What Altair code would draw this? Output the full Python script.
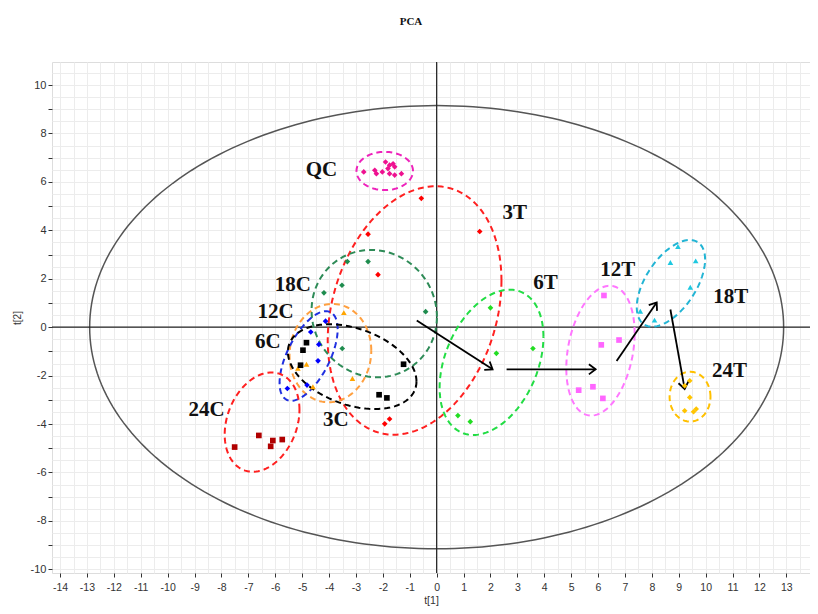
import math
import numpy as np
import pandas as pd
import altair as alt

# ---------------- data ----------------
groups = ["QC", "3T", "6T", "12T", "18T", "24T", "18C", "12C", "6C", "3C", "24C"]

QC_x = [-2.71, -2.30, -2.24, -2.02, -1.90, -1.75, -1.62, -1.56, -1.75, -1.56, -1.31, -1.81]
QC_y = [6.41, 6.48, 6.34, 6.41, 6.82, 6.69, 6.75, 6.62, 6.34, 6.28, 6.34, 6.55]
T3_x = [-0.57, -2.55, 1.60, -2.18, -1.93, -1.75]
T3_y = [5.32, 3.84, 3.95, 2.17, -3.99, -3.79]
T6_x = [2.00, 2.22, 3.58, 0.79, 1.25]
T6_y = [0.80, -1.08, -0.88, -3.65, -3.90]
T12_x = [6.22, 6.12, 6.78, 5.81, 5.28, 6.18]
T12_y = [1.31, -0.73, -0.53, -2.46, -2.60, -2.94]
T18_x = [8.97, 8.69, 9.63, 9.43, 7.57, 8.10]
T18_y = [3.33, 2.67, 2.74, 1.65, 0.66, 0.29]
T24_x = [9.41, 9.22, 9.41, 9.22, 9.55, 9.65]
T24_y = [-2.21, -2.42, -2.90, -3.45, -3.49, -3.38]
C18_x = [-3.32, -2.55, -3.52, -4.19, -0.41, -3.51]
C18_y = [2.71, 2.71, 1.73, 1.42, 0.64, -0.88]
C12_x = [-3.45, -4.84, -5.16, -3.13, -4.60]
C12_y = [0.60, -1.53, -1.70, -2.12, -2.46]
C6_x = [-4.13, -4.68, -4.38, -4.41, -5.55, -4.82]
C6_y = [0.25, -0.20, -0.71, -1.39, -2.53, -2.39]
C3_x = [-4.84, -4.97, -5.06, -1.23, -2.14, -1.85]
C3_y = [-0.64, -0.95, -1.57, -1.53, -2.79, -2.92]
C24_x = [-7.51, -6.61, -6.09, -6.17, -5.74]
C24_y = [-4.95, -4.47, -4.68, -4.92, -4.64]

# group ellipses: centre x, centre y, half-width, half-height, tilt (correlation)
ell_cx = [-1.93, -0.82, 2.04, 6.09, 8.71, 9.42, -2.32, -3.95, -4.76, -3.14, -6.49]
ell_cy = [6.45, 0.69, -1.45, -0.97, 1.81, -2.87, 0.56, -1.07, -1.19, -1.63, -3.92]
ell_w = [1.05, 3.23, 1.93, 1.27, 1.27, 0.76, 2.33, 1.52, 1.08, 2.39, 1.39]
ell_h = [0.79, 5.13, 3.00, 2.68, 1.79, 1.03, 2.63, 2.03, 1.85, 1.75, 2.05]
ell_r = [0.0, 0.24, 0.35, 0.27, 0.55, 0.0, -0.05, 0.05, 0.60, -0.35, 0.25]

# Hotelling T2 ellipse
hot_w, hot_h = 12.9, 9.15

# arrows (start -> end)
arr_x1 = [-0.74, 2.60, 6.69, 8.69]
arr_y1 = [0.28, -1.74, -1.40, 0.73]
arr_x2 = [2.08, 5.91, 8.18, 9.22]
arr_y2 = [-1.74, -1.74, 1.02, -2.55]

# labels
lab_text = ["QC", "3T", "6T", "12T", "18T", "24T", "18C", "12C", "6C", "24C", "3C"]
lab_x = [-4.28, 2.90, 4.05, 6.73, 10.93, 10.89, -5.35, -5.99, -6.28, -8.55, -3.75]
lab_y = [6.48, 4.72, 1.84, 2.37, 1.26, -1.82, 1.76, 0.61, -0.62, -3.41, -3.82]

point_colors = ["#EE1190", "#FF0000", "#22DD22", "#FF66FF", "#1EC8E0", "#FFC400",
                "#1E8C4E", "#FFA500", "#0000FF", "#000000", "#B00000"]
ellipse_colors = ["#EE22BB", "#FF2020", "#22DD44", "#FF77FF", "#22B4D4", "#FFC000",
                  "#2E8B57", "#FFA040", "#1E2EE0", "#000000", "#FF2020"]
shapes = ["diamond", "diamond", "diamond", "square", "triangle-up", "diamond",
          "diamond", "triangle-up", "diamond", "square", "square"]

XDOM = [-14.3, 13.88]
YDOM = [-10.15, 10.95]
W, H = 758, 511

# ---------------- tables ----------------
pts_x = [QC_x, T3_x, T6_x, T12_x, T18_x, T24_x, C18_x, C12_x, C6_x, C3_x, C24_x]
pts_y = [QC_y, T3_y, T6_y, T12_y, T18_y, T24_y, C18_y, C12_y, C6_y, C3_y, C24_y]
rows = []
for g, xs, ys in zip(groups, pts_x, pts_y):
    for a, b in zip(xs, ys):
        rows.append({"g": g, "x": a, "y": b})
pts = pd.DataFrame(rows)

t = np.linspace(0, 2 * np.pi, 121)
erows = []
for g, cx, cy, ew, eh, r in zip(groups, ell_cx, ell_cy, ell_w, ell_h, ell_r):
    xs = cx + ew * np.cos(t)
    ys = cy + eh * (r * np.cos(t) + math.sqrt(1 - r * r) * np.sin(t))
    for i, (a, b) in enumerate(zip(xs, ys)):
        erows.append({"g": g, "i": i, "x": a, "y": b})
ell = pd.DataFrame(erows)

th = np.linspace(0, 2 * np.pi, 241)
hot = pd.DataFrame({"i": range(len(th)), "x": hot_w * np.cos(th), "y": hot_h * np.sin(th)})

sx = W / (XDOM[1] - XDOM[0])
sy = H / (YDOM[1] - YDOM[0])
angles = [math.degrees(math.atan2(-(b2 - b1) * sy, (a2 - a1) * sx)) % 360
          for a1, b1, a2, b2 in zip(arr_x1, arr_y1, arr_x2, arr_y2)]
arr = pd.DataFrame({"x": arr_x1, "y": arr_y1, "x2": arr_x2, "y2": arr_y2, "ang": angles})
labs = pd.DataFrame({"t": lab_text, "x": lab_x, "y": lab_y})
axes_df = pd.DataFrame({"v": [0]})

# ---------------- scales / axes ----------------
xvals = [v / 2 for v in range(-28, 28)]
yvals = [v / 2 for v in range(-20, 22)]
tick_cond = {"condition": {"test": "datum.value % 1 != 0", "value": 0}, "value": 1}
xaxis = alt.Axis(values=xvals,
                 labelExpr="datum.value % 1 == 0 ? '' + datum.value : ''",
                 labelOverlap=False, labelBound=False,
                 grid=True, gridColor="#ececec", gridWidth=1,
                 tickOpacity=tick_cond,
                 tickColor="#333", tickSize=4, labelPadding=5, domain=False,
                 labelFont="Liberation Sans", labelFontSize=10.5, labelColor="#333",
                 title="t[1]", titleFont="Liberation Sans", titleFontSize=10.5,
                 titleFontWeight="normal", titleColor="#333", titlePadding=3)
yaxis = alt.Axis(values=yvals,
                 labelExpr="datum.value % 2 == 0 ? '' + datum.value : ''",
                 labelOverlap=False, labelBound=False,
                 grid=True, gridColor="#ececec", gridWidth=1,
                 tickOpacity=tick_cond,
                 tickColor="#333", tickSize=4, labelPadding=2, domain=False,
                 labelFont="Liberation Sans", labelFontSize=11, labelColor="#333",
                 title="t[2]", titleFont="Liberation Sans", titleFontSize=10,
                 titleFontWeight="normal", titleColor="#333", titlePadding=8)
xs_ = alt.Scale(domain=XDOM, nice=False, zero=False)
ys_ = alt.Scale(domain=YDOM, nice=False, zero=False)

zero_v = alt.Chart(axes_df).mark_rule(color="#222", strokeWidth=1.2).encode(
    x=alt.X("v:Q", scale=xs_, axis=xaxis))
zero_h = alt.Chart(axes_df).mark_rule(color="#222", strokeWidth=1.2).encode(
    y=alt.Y("v:Q", scale=ys_, axis=yaxis))

hot_layer = alt.Chart(hot).mark_line(color="#555", strokeWidth=1.5).encode(
    x=alt.X("x:Q", scale=xs_, axis=xaxis), y=alt.Y("y:Q", scale=ys_, axis=yaxis),
    order="i:Q")

ell_layer = alt.Chart(ell).mark_line(strokeWidth=2, strokeDash=[6, 4]).encode(
    x=alt.X("x:Q", scale=xs_, axis=xaxis), y=alt.Y("y:Q", scale=ys_, axis=yaxis),
    order="i:Q", detail="g:N",
    color=alt.Color("g:N", scale=alt.Scale(domain=groups, range=ellipse_colors), legend=None))

pt_layer = alt.Chart(pts).mark_point(filled=True, opacity=1, size=32).encode(
    x=alt.X("x:Q", scale=xs_, axis=xaxis), y=alt.Y("y:Q", scale=ys_, axis=yaxis),
    fill=alt.Fill("g:N", scale=alt.Scale(domain=groups, range=point_colors), legend=None),
    shape=alt.Shape("g:N", scale=alt.Scale(domain=groups, range=shapes), legend=None))

arr_line = alt.Chart(arr).mark_rule(color="#000", strokeWidth=1.8).encode(
    x=alt.X("x:Q", scale=xs_, axis=xaxis), y=alt.Y("y:Q", scale=ys_, axis=yaxis),
    x2="x2:Q", y2="y2:Q")
arr_head = alt.Chart(arr).mark_point(
    shape="M -1 -0.75 L 0 0 L -1 0.75", filled=False, stroke="#000",
    strokeWidth=1.8, size=180, opacity=1).encode(
    x=alt.X("x2:Q", scale=xs_, axis=xaxis), y=alt.Y("y2:Q", scale=ys_, axis=yaxis),
    angle=alt.Angle("ang:Q", scale=None))

lab_layer = alt.Chart(labs).mark_text(font="Liberation Serif", fontWeight="bold",
                                      fontSize=21, color="#111").encode(
    x=alt.X("x:Q", scale=xs_, axis=xaxis), y=alt.Y("y:Q", scale=ys_, axis=yaxis),
    text="t:N")

chart = alt.layer(hot_layer, zero_v, zero_h, ell_layer, arr_line, arr_head, pt_layer, lab_layer).properties(
    width=W, height=H,
    title=alt.TitleParams(text="PCA", font="Liberation Serif", fontSize=11,
                          fontWeight="bold", offset=34, dx=-20, color="#111"),
    autosize=alt.AutoSizeParams(type="none"),
    padding={"left": 44, "top": 54, "right": 0, "bottom": 33},
).configure_view(stroke="#333", strokeWidth=1.5).configure(background="white")

chart.save("out.html", embed_options={"renderer": "svg", "actions": False})
